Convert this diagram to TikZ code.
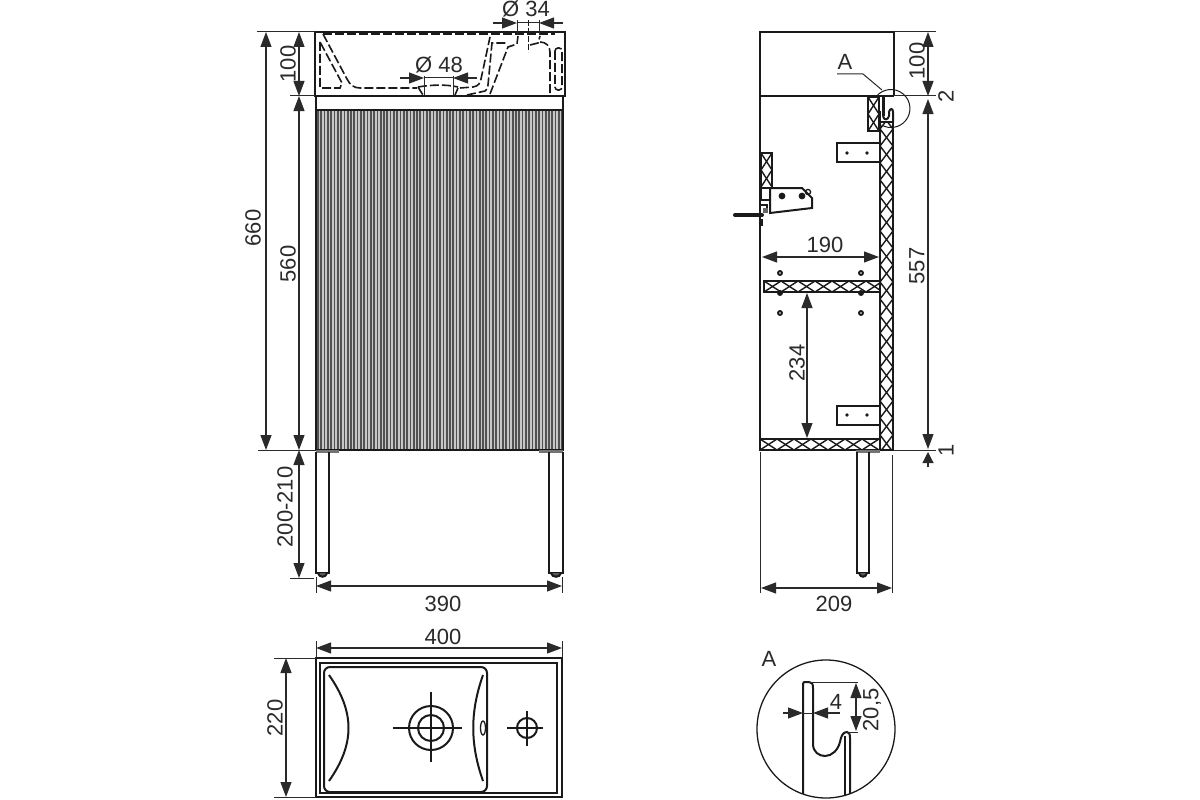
\documentclass[tikz,border=0pt]{standalone}
\usepackage{fontspec}
\setmainfont{Liberation Sans}
\usetikzlibrary{arrows.meta}
\definecolor{ink}{HTML}{1A1A1A}
\definecolor{dimink}{HTML}{2A2A2A}
\newcommand{\hatchV}[4]{\begin{scope}\clip (#1,#3) rectangle (#2,#4);
\foreach \k in {0,...,11}{\draw[hatchline] (#1,{#3+\k*34}) -- (#2,{#3+\k*34+17}) -- (#1,{#3+\k*34+34});
\draw[hatchline] (#2,{#3+\k*34}) -- (#1,{#3+\k*34+17}) -- (#2,{#3+\k*34+34});}
\end{scope}\draw[obj] (#1,#3) rectangle (#2,#4);}
\newcommand{\hatchH}[4]{\begin{scope}\clip (#1,#3) rectangle (#2,#4);
\foreach \k in {0,...,4}{\draw[hatchline] ({#1+\k*34},#3) -- ({#1+\k*34+17},#4) -- ({#1+\k*34+34},#3);
\draw[hatchline] ({#1+\k*34},#4) -- ({#1+\k*34+17},#3) -- ({#1+\k*34+34},#4);}
\end{scope}\draw[obj] (#1,#3) rectangle (#2,#4);}
\tikzset{
 obj/.style={draw=ink,line width=2},
 thinobj/.style={draw=ink,line width=1.3},
 hatchline/.style={draw=ink,line width=1.4},
 hid/.style={draw=ink,line width=1.6,dash pattern=on 9pt off 3pt},
 ext/.style={draw=dimink,line width=1},
 bi/.style={draw=dimink,line width=1.1,{Triangle[length=15pt,width=11pt]}-{Triangle[length=15pt,width=11pt]}},
 onetip/.style={draw=dimink,line width=1.1,-{Triangle[length=15pt,width=11pt]}},
 lbl/.style={text=dimink,inner sep=0pt,font=\fontsize{22}{22}\selectfont},
 vlbl/.style={lbl,rotate=90}
}
\begin{document}
\begin{tikzpicture}[x=1pt,y=-1pt]
\useasboundingbox (0,0) rectangle (1200,800);
\fill[white] (0,0) rectangle (1200,800);
% ===== front view =====
\fill[black!22] (317,110) rectangle (562,449);
\begin{scope}
\clip (317,110) rectangle (562,449);
\foreach \k in {0,...,74}{\draw[draw=black!68,line width=1.7] ({318+\k*3.3},110) -- ({318+\k*3.3},450);}
\end{scope}
\draw[obj] (316,96) -- (316,450) -- (563,450) -- (563,96);
\draw[thinobj] (317,110) -- (562,110);
\draw[obj] (314.5,32) rectangle (564.5,96);
% hidden basin lines
\draw[hid] (323,34) -- (555,34);
\draw[hid] (323,34) -- (347,79) .. controls (350,85) and (354,88) .. (360,88) -- (417,88);
\draw[hid] (320,42) -- (320,88) -- (340,88) -- (342,83) -- cycle;
\draw[hid] (418,87) -- (423,95);
\draw[hid] (418,87) .. controls (430,85) and (445,84) .. (458,87);
\draw[hid] (458,88) -- (455,95);
\draw[hid] (460,88) -- (473,87) .. controls (479,86) and (480,83) .. (481,79) -- (490,37);
\draw[hid] (467,95) -- (485,91) .. controls (487,90) and (488,88) .. (488,85) -- (492,43) -- (507,43);
\draw[hid] (490,94) -- (508,47) -- (517,44) -- (518,36);
\draw[hid] (530,45) -- (538,43) -- (540,36);
\draw[hid] (540,42) .. controls (546,42) and (550,46) .. (550,52) -- (550,95);
\draw[hid,rounded corners=3pt] (555,48) rectangle (562,90);
\draw[draw=ink,line width=1,dash pattern=on 6pt off 2pt] (528,20) -- (528,52);
% legs
\fill[black!55] (316,450) rectangle (339,453);
\fill[black!55] (539,450) rectangle (563,453);
\draw[obj] (316,452) -- (316,573) -- (329,573) -- (329,452);
\draw[obj] (549,452) -- (549,573) -- (563,573) -- (563,452);
\draw[obj,fill=black!65] (318,573) .. controls (319,578) and (326,578) .. (327,573);
\draw[obj,fill=black!65] (551,573) .. controls (552,578) and (560,578) .. (561,573);
% front dims
\draw[ext] (257,32) -- (315,32);
\draw[ext] (290,96) -- (315,96);
\draw[ext] (258,450) -- (316,450);
\draw[ext] (290,578) -- (314,578);
\draw[ext] (316,577) -- (316,593);
\draw[ext] (562,577) -- (562,593);
\draw[bi] (266,32) -- (266,450);
\draw[bi] (299,32) -- (299,96);
\draw[bi] (299,96) -- (299,450);
\draw[bi] (299,450) -- (299,578);
\draw[bi] (316,586) -- (562,586);
\draw[onetip] (493,23) -- (517,23);
\draw[onetip] (563,23) -- (539,23);
\draw[ext] (517,23) -- (539,23);
\draw[ext] (517,20) -- (517,35);
\draw[ext] (539,20) -- (539,35);
\draw[onetip] (400,78) -- (424,78);
\draw[onetip] (477,78) -- (453,78);
\draw[ext] (424,78) -- (453,78);
\draw[ext] (424,76) -- (424,95);
\draw[ext] (453,76) -- (453,95);
\node[lbl] (d34) at (526,9) {Ø 34};
\node[lbl] (d48) at (439,65) {Ø 48};
\node[vlbl] (t660) at (253,228) {660};
\node[vlbl] (t560) at (288,264) {560};
\node[vlbl] (t100a) at (288,64) {100};
\node[vlbl] (t200) at (285,507) {200-210};
\node[lbl] (t390) at (443,604) {390};
% ===== side view =====
\draw[obj] (894,96) -- (894,32) -- (760,32) -- (760,450) -- (880,450);
\draw[obj] (760,96) -- (894,96);
\draw[ext] (894,96) -- (936,96);
\draw[ext] (894,32) -- (936,32);
\draw[ext] (892,450) -- (936,450);
% hatched panels
\hatchV{880}{893}{112}{450}
\hatchV{868}{879}{97}{131}
\hatchH{764}{880}{281}{292}
\hatchH{760}{880}{439}{450}
\hatchV{761}{772}{153}{188}
% hook at top of back panel
\fill[white] (881,98) rectangle (895,121);
\draw[obj] (880,112) -- (880,122);
\draw[draw=ink,line width=3.5] (883.5,96) -- (883.5,116);
\draw[obj] (883,116) .. controls (884,121) and (888,120) .. (889,116) -- (889,112) .. controls (890,108) and (893,108) .. (893,112) -- (893,122);
\draw[hatchline] (880,122) -- (893,122);
\draw[line width=1,draw=ink] (876.4,96.3) arc[start angle=-140,end angle=120,radius=19];
\draw[ext] (837,74) -- (863,74) -- (882,90);
\node[lbl] (tA1) at (845,62) {A};
% brackets
\draw[obj] (880,143) -- (837,143) -- (837,162) -- (880,162);
\draw[obj] (880,406) -- (837,406) -- (837,425) -- (880,425);
\foreach \px/\py in {847/153,867/153,847/415,867/415}{\fill[ink] (\px,\py) circle (1.8);}
% shelf pins
\foreach \px/\py in {780/273,861/273,780/313,861/313}{\fill[ink] (\px,\py) circle (3);\fill[white] (\px,\py) circle (0.9);}
\foreach \px in {780,861}{\fill[ink] (\px,293) circle (3);}
% door handle
\draw[obj] (761,188) rectangle (770,200);
\draw[obj,fill=white] (770,188) -- (802,188) -- (812,198) -- (812,208) -- (770,213) -- cycle;
\fill[ink] (782,196) circle (3.4);
\fill[ink] (802,196) circle (3.4);
\draw[line width=1.3,draw=ink] (808,192) circle (2.6);
\draw[obj] (761,205) -- (767,205) -- (767,212);
\fill[black!60] (763,208) rectangle (768,213);
\draw[draw=ink,line width=4,line cap=round] (735,215) -- (762,215);
\fill[ink] (760,219) rectangle (763,226);
% leg side
\fill[black!55] (856,450) rectangle (880,453);
\draw[obj] (857,452) -- (857,573) -- (869,573) -- (869,452);
\draw[obj,fill=black!65] (859,573) .. controls (860,578) and (866,578) .. (867,573);
% side dims
\draw[ext] (760,452) -- (760,593);
\draw[ext] (892,455) -- (892,593);
\draw[bi] (761,588) -- (892,588);
\draw[bi] (762,257) -- (879,257);
\draw[bi] (807,293) -- (807,438);
\draw[bi] (928,32) -- (928,96);
\draw[bi] (928,99) -- (928,449);
\draw[draw=dimink,line width=1.1,-{Triangle[length=11pt,width=11pt]}] (928,467) -- (928,452);
\node[lbl] (t209) at (834,604) {209};
\node[lbl] (t190) at (825,245) {190};
\node[vlbl] (t234) at (797,363) {234};
\node[vlbl] (t557) at (917,266) {557};
\node[vlbl] (t100b) at (917,61) {100};
\node[vlbl] (t2) at (946,96) {2};
\node[vlbl] (t1) at (946,450) {1};
% ===== plan view =====
\draw[obj] (316,658) rectangle (562,797);
\draw[obj] (320,663) rectangle (557,793);
\draw[obj,rounded corners=6pt,fill=white] (324,667) rectangle (487,792);
\draw[obj] (329,675) .. controls (355,712) and (355,744) .. (329,781);
\draw[obj] (483,675) .. controls (470,712) and (470,744) .. (483,781);
\draw[thinobj] (483,728) ellipse (2.5 and 7);
\draw[obj] (431,728) circle (22);
\draw[obj] (431,728) circle (13);
\draw[obj] (393,728) -- (462,728);
\draw[obj] (431,692) -- (431,762);
\draw[obj] (527,728) circle (10);
\draw[obj] (507,728) -- (543,728);
\draw[obj] (527,711) -- (527,746);
\draw[ext] (316,641) -- (316,658);
\draw[ext] (562,641) -- (562,658);
\draw[ext] (274,658) -- (316,658);
\draw[ext] (274,797) -- (316,797);
\draw[bi] (316,648) -- (562,648);
\draw[bi] (286,658) -- (286,797);
\node[lbl] (t400) at (443,637) {400};
\node[vlbl] (t220) at (275,718) {220};
% ===== detail A =====
\draw[line width=1.3,draw=ink] (826,729) circle (69);
\begin{scope}
\clip (826,729) circle (69);
\draw[obj] (803,800) -- (803,684) .. controls (803,682) and (804,682) .. (806,682) -- (809,682) .. controls (812,682) and (813,684) .. (813,688) -- (813,744) .. controls (813,752) and (819,756) .. (825,756) .. controls (832,756) and (838,750) .. (840,742) .. controls (841,736) and (843,732) .. (847,732) .. controls (849,732) and (850,734) .. (850,738) -- (850,800);
\draw[obj] (845,736) -- (845,800);
\end{scope}
\draw[ext] (809,682) -- (858,682);
\draw[ext] (847,732) -- (858,732);
\draw[bi] (856,683) -- (856,731);
\draw[onetip] (783,713) -- (803,713);
\draw[onetip] (840,713) -- (813,713);
\draw[ext] (803,713) -- (813,713);
\node[lbl] (tA2) at (769,659) {A};
\node[lbl] (t4) at (836,702) {4};
\node[vlbl] (t205) at (872,710) {20,5};
\end{tikzpicture}
\end{document}
